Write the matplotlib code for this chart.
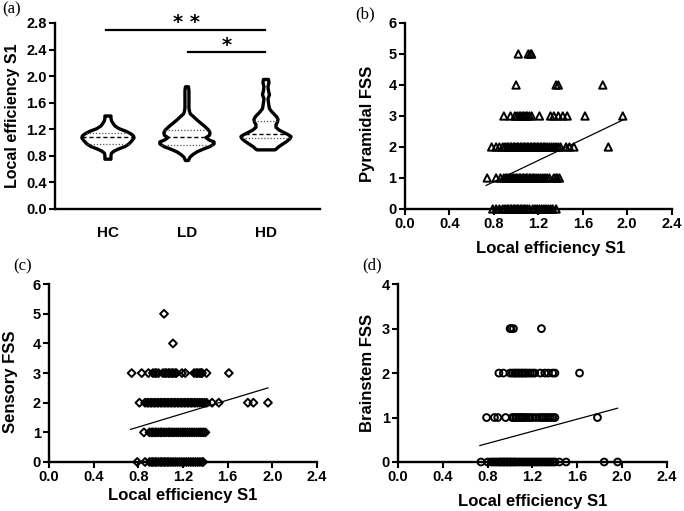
import numpy as np
import matplotlib.pyplot as plt

plt.rcParams['font.family'] = ['Liberation Sans', 'DejaVu Sans']
plt.rcParams['font.weight'] = 'bold'

# (a) violin outlines: value -> relative half width
groups = ['HC', 'LD', 'HD']
hc_vals = [0.75, 0.80, 0.84, 0.87, 0.90, 0.94, 0.98, 1.02, 1.07, 1.10, 1.13, 1.17, 1.21, 1.25, 1.29, 1.33, 1.37, 1.40]
hc_dens = [3, 3, 3.5, 6, 10, 17, 21, 23.5, 26, 25.5, 23, 18, 11, 7, 5, 3.5, 3, 3]
ld_vals = [0.73, 0.78, 0.82, 0.86, 0.90, 0.94, 0.98, 1.01, 1.04, 1.075, 1.11, 1.15, 1.19, 1.24, 1.29, 1.34, 1.39,
           1.43, 1.47, 1.52, 1.60, 1.70, 1.78, 1.84]
ld_dens = [1.5, 3, 6, 10, 16, 23, 27, 27, 22, 19, 22.5, 23, 21.5, 18, 14, 10, 6.5, 3.5, 2.5, 2, 2, 2, 2, 1.5]
hd_vals = [0.89, 0.90, 0.94, 0.98, 1.02, 1.06, 1.09, 1.12, 1.15, 1.19, 1.23, 1.27, 1.31, 1.35, 1.39, 1.43, 1.47,
           1.51, 1.55, 1.60, 1.66, 1.72, 1.78, 1.84, 1.90, 1.95]
hd_dens = [9, 10, 13, 17, 21, 24, 25, 22, 18, 13, 10, 10, 11.5, 12, 10.5, 8, 5.5, 3.5, 3, 2.5, 2, 3.5, 2.5, 2, 3, 2.5]
# quartiles (Q1, median, Q3)
hc_q = [0.98, 1.08, 1.14]
ld_q = [0.97, 1.09, 1.19]
hd_q = [1.07, 1.13, 1.33]

# (b)-(d) scores per FSS level, x = local efficiency S1
pyr_0 = [0.79, 0.82, 0.85, 0.88, 0.90, 0.92, 0.93, 0.95, 0.96, 0.98, 0.99, 1.01, 1.02, 1.04, 1.05, 1.07, 1.08, 1.10,
         1.12, 1.15, 1.17, 1.19, 1.21, 1.23, 1.25, 1.27, 1.29, 1.31, 1.33, 1.36]
pyr_1 = [0.74, 0.82, 0.86, 0.89, 0.91, 0.92, 0.94, 0.95, 0.97, 0.98, 1.00, 1.01, 1.03, 1.04, 1.06, 1.07, 1.09, 1.10,
         1.12, 1.13, 1.15, 1.16, 1.18, 1.20, 1.22, 1.24, 1.26, 1.28, 1.30, 1.34, 1.36, 1.37, 1.39]
pyr_2 = [0.78, 0.82, 0.85, 0.88, 0.90, 0.92, 0.93, 0.95, 0.96, 0.98, 0.99, 1.01, 1.02, 1.04, 1.05, 1.07, 1.08, 1.10,
         1.11, 1.13, 1.14, 1.16, 1.17, 1.19, 1.20, 1.22, 1.23, 1.25, 1.26, 1.28, 1.30, 1.32, 1.34, 1.36, 1.38, 1.40,
         1.45, 1.48, 1.52, 1.83]
pyr_3 = [0.89, 0.95, 0.99, 1.01, 1.03, 1.04, 1.06, 1.07, 1.09, 1.10, 1.12, 1.14, 1.21, 1.31, 1.34, 1.38, 1.42, 1.46,
         1.62, 1.96]
pyr_4 = [1.00, 1.36, 1.38, 1.78]
pyr_5 = [1.02, 1.11, 1.13, 1.14]

sen_0 = [0.79, 0.86, 0.90, 0.92, 0.93, 0.95, 0.96, 0.98, 1.00, 1.01, 1.03, 1.04, 1.06, 1.07, 1.09, 1.11, 1.13, 1.15,
         1.17, 1.19, 1.21, 1.23, 1.25, 1.27, 1.29, 1.31, 1.33, 1.35, 1.37, 1.38]
sen_1 = [0.85, 0.90, 0.92, 0.93, 0.95, 0.96, 0.98, 1.00, 1.01, 1.03, 1.05, 1.07, 1.08, 1.10, 1.12, 1.14, 1.16, 1.18,
         1.20, 1.22, 1.24, 1.26, 1.28, 1.30, 1.32, 1.34, 1.36, 1.38, 1.40]
sen_2 = [0.81, 0.86, 0.88, 0.89, 0.91, 0.92, 0.94, 0.95, 0.97, 0.98, 1.00, 1.01, 1.03, 1.04, 1.06, 1.07, 1.09, 1.10,
         1.12, 1.13, 1.15, 1.16, 1.18, 1.19, 1.21, 1.22, 1.24, 1.25, 1.27, 1.28, 1.30, 1.31, 1.33, 1.35, 1.37, 1.39,
         1.41, 1.46, 1.52, 1.78, 1.83, 1.96]
sen_3 = [0.74, 0.83, 0.89, 0.93, 0.95, 0.96, 0.98, 1.02, 1.04, 1.05, 1.07, 1.08, 1.10, 1.11, 1.13, 1.14, 1.19, 1.22,
         1.30, 1.32, 1.33, 1.35, 1.36, 1.37, 1.41, 1.61]
sen_4 = [1.11]
sen_5 = [1.03]

bra_0 = [0.74, 0.80, 0.83, 0.85, 0.87, 0.89, 0.91, 0.92, 0.94, 0.95, 0.97, 0.98, 1.00, 1.01, 1.03, 1.04, 1.06, 1.08,
         1.10, 1.12, 1.14, 1.16, 1.18, 1.20, 1.22, 1.24, 1.26, 1.28, 1.30, 1.32, 1.34, 1.36, 1.38, 1.40, 1.44, 1.50,
         1.84, 1.96]
bra_1 = [0.79, 0.86, 0.89, 0.96, 1.02, 1.03, 1.05, 1.06, 1.08, 1.09, 1.11, 1.12, 1.14, 1.16, 1.18, 1.20, 1.23, 1.26,
         1.28, 1.30, 1.32, 1.34, 1.36, 1.38, 1.40, 1.78]
bra_2 = [0.90, 0.94, 1.00, 1.02, 1.04, 1.05, 1.07, 1.08, 1.10, 1.11, 1.13, 1.14, 1.16, 1.18, 1.20, 1.22, 1.27, 1.31,
         1.34, 1.38, 1.40, 1.62]
bra_3 = [1.00, 1.01, 1.03, 1.28]

# regression lines (end points)
fit_x = [0.73, 1.96]
pyr_fit = [0.76, 2.87]
sen_fit = [1.10, 2.50]
bra_fit = [0.37, 1.21]

x_ticks = [0.0, 0.4, 0.8, 1.2, 1.6, 2.0, 2.4]


def prism(ax):
    for s in ['top', 'right']:
        ax.spines[s].set_visible(False)
    for s in ['left', 'bottom']:
        ax.spines[s].set_linewidth(1.7)
    ax.tick_params(width=1.5, length=4, pad=2, labelsize=10.5)
    for lab in ax.get_xticklabels() + ax.get_yticklabels():
        lab.set_fontweight('bold')


fig = plt.figure(figsize=(6.84, 5.11), dpi=100)

# ---- (a) violins
ax = fig.add_axes([0.0804, 0.591, 0.387, 0.364])
wscale = 0.33 / 26
profiles = [(hc_vals, hc_dens, hc_q), (ld_vals, ld_dens, ld_q), (hd_vals, hd_dens, hd_q)]
for i, (v, d, q) in enumerate(profiles):
    pos = i + 1
    v = np.array(v)
    d = np.array(d) * wscale
    xs = np.concatenate([pos + d, pos - d[::-1]])
    ys = np.concatenate([v, v[::-1]])
    ax.fill(xs, ys, facecolor='white', edgecolor='black', lw=2.4, joinstyle='round', zorder=2)
    for k, qv in enumerate(q):
        hw = np.interp(qv, v, d)
        ax.plot([pos - hw, pos + hw], [qv, qv], color='black' if k == 1 else '#555555',
                lw=1.0 if k == 1 else 0.9, ls=(0, (3, 2)) if k == 1 else (0, (1, 1.5)), zorder=3)

ax.set_xlim(0.33, 3.68)
ax.set_ylim(0, 2.8)
ax.set_yticks([0.0, 0.4, 0.8, 1.2, 1.6, 2.0, 2.4, 2.8])
ax.set_yticklabels(['0.0', '0.4', '0.8', '1.2', '1.6', '2.0', '2.4', '2.8'])
ax.set_xticks([1, 2, 3])
ax.set_xticklabels(groups)
prism(ax)
ax.tick_params(axis='x', length=0, pad=12, labelsize=11)
ax.set_ylabel('Local efficiency S1', fontsize=11.5, fontweight='bold')
ax.yaxis.set_label_coords(-0.162, 0.5)
ax.yaxis.label.set_va('center')

# significance bars
ax.plot([0.98, 2.99], [2.70, 2.70], color='black', lw=1.6, clip_on=False)
ax.plot([2.01, 2.99], [2.36, 2.36], color='black', lw=1.6, clip_on=False)
ax.text(2.0, 2.80, '* *', ha='center', va='center', fontsize=14, fontweight='bold', family='DejaVu Sans')
ax.text(2.5, 2.46, '*', ha='center', va='center', fontsize=14, fontweight='bold', family='DejaVu Sans')


def scatter_panel(rect, rows, fit, marker, ylabel, ymax, ylab_pos, xlab_pos, msize):
    ax = fig.add_axes(rect)
    for level, xs in enumerate(rows):
        ax.scatter(xs, [level] * len(xs), marker=marker, s=msize, facecolors='none',
                   edgecolors='black', linewidths=1.4, clip_on=False, zorder=3)
    ax.plot(fit_x, fit, color='black', lw=0.9, zorder=2)
    ax.set_xlim(0, 2.4)
    ax.set_ylim(0, ymax)
    ax.set_xticks(x_ticks)
    ax.set_xticklabels(['%.1f' % t for t in x_ticks])
    ax.set_yticks(list(range(ymax + 1)))
    prism(ax)
    ax.set_xlabel('Local efficiency S1', fontsize=12, fontweight='bold')
    ax.set_ylabel(ylabel, fontsize=12, fontweight='bold')
    ax.xaxis.set_label_coords(*xlab_pos)
    ax.xaxis.label.set_va('center')
    ax.yaxis.set_label_coords(*ylab_pos)
    ax.yaxis.label.set_va('center')
    return ax


scatter_panel([0.592, 0.591, 0.390, 0.364], [pyr_0, pyr_1, pyr_2, pyr_3, pyr_4, pyr_5], pyr_fit, '^',
              'Pyramidal FSS', 6, (-0.142, 0.457), (0.547, -0.21), 28)
scatter_panel([0.0716, 0.0959, 0.392, 0.348], [sen_0, sen_1, sen_2, sen_3, sen_4, sen_5], sen_fit, 'D',
              'Sensory FSS', 6, (-0.142, 0.449), (0.5, -0.19), 16)
scatter_panel([0.582, 0.0959, 0.393, 0.348], [bra_0, bra_1, bra_2, bra_3], bra_fit, 'o',
              'Brainstem FSS', 4, (-0.115, 0.5), (0.5, -0.223), 24)

# panel letters
for lab, x, y in [('(a)', 0.003, 0.981), ('(b)', 0.519, 0.971), ('(c)', 0.019, 0.479), ('(d)', 0.529, 0.481)]:
    fig.text(x, y, lab, fontsize=12, family='Liberation Serif', fontweight='normal', va='center', ha='left')

fig.savefig('out.png', dpi=100)
